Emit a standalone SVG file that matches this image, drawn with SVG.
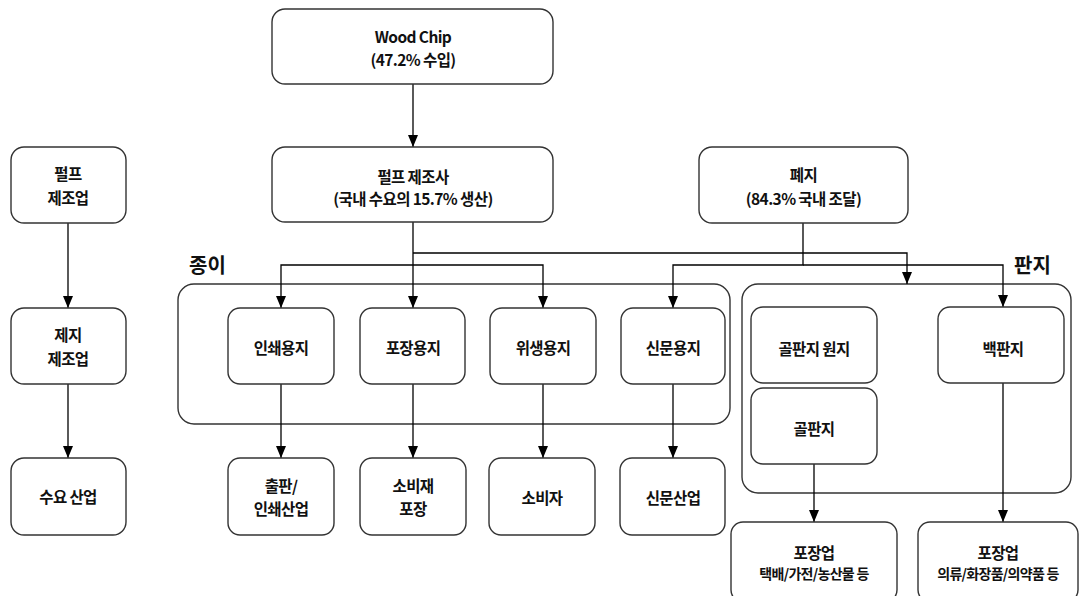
<svg xmlns="http://www.w3.org/2000/svg" width="1080" height="596" viewBox="0 0 1080 596">
<style>
.box{fill:#fff;stroke:#333;stroke-width:1.4}
.grp{fill:none;stroke:#333;stroke-width:1.4}
.t{font-family:"Noto Sans CJK KR","Noto Sans",sans-serif;font-size:15.5px;font-weight:600;fill:#111;text-anchor:middle;dominant-baseline:central;letter-spacing:-0.6px}
.s{font-size:14px;letter-spacing:-0.7px}
.lbl{font-family:"Noto Sans CJK KR","Noto Sans",sans-serif;font-size:20px;font-weight:600;fill:#111}
.c{fill:none;stroke:#000;stroke-width:1.3}
</style>
<defs>
<marker id="ar" markerWidth="12" markerHeight="10" refX="12" refY="5" orient="auto" markerUnits="userSpaceOnUse" viewBox="0 0 12 10">
<path d="M0,0 L12,5 L0,10 Z" fill="#000"/>
</marker>
</defs>

<g id="groups">
<rect id="paper-group" class="grp" x="178" y="284" width="552" height="140" rx="16"/>
<text class="lbl" x="189" y="273">종이</text>
<rect id="board-group" class="grp" x="742" y="284" width="329" height="209" rx="16"/>
<text class="lbl" x="1014" y="273">판지</text>
</g>

<g id="connectors">
<path class="c" d="M413,84 V147" marker-end="url(#ar)"/>
<path class="c" d="M413,222 V308" marker-end="url(#ar)"/>
<path class="c" d="M413,253 H907 V284" marker-end="url(#ar)"/>
<path class="c" d="M413,265 H281 V308" marker-end="url(#ar)"/>
<path class="c" d="M413,265 H543 V308" marker-end="url(#ar)"/>
<path class="c" d="M803,223 V265 H673 V308" marker-end="url(#ar)"/>
<path class="c" d="M803,265 H1003 V307" marker-end="url(#ar)"/>
<path class="c" d="M281,384 V458" marker-end="url(#ar)"/>
<path class="c" d="M413,384 V458" marker-end="url(#ar)"/>
<path class="c" d="M543,384 V458" marker-end="url(#ar)"/>
<path class="c" d="M673,384 V458" marker-end="url(#ar)"/>
<path class="c" d="M814,464 V522" marker-end="url(#ar)"/>
<path class="c" d="M1003,383 V522" marker-end="url(#ar)"/>
<path class="c" d="M68,223 V308" marker-end="url(#ar)"/>
<path class="c" d="M68,384 V458" marker-end="url(#ar)"/>
</g>

<g id="woodchip"><rect class="box" x="272" y="9" width="281" height="75" rx="13"/>
<text class="t" x="413" y="36">Wood Chip</text><text class="t" x="413" y="59">(47.2% 수입)</text></g>

<g id="pulp-maker"><rect class="box" x="272" y="147" width="281" height="75" rx="13"/>
<text class="t" x="413" y="176">펄프 제조사</text><text class="t" x="413" y="198">(국내 수요의 15.7% 생산)</text></g>

<g id="wastepaper"><rect class="box" x="699" y="147" width="209" height="76" rx="13"/>
<text class="t" x="803.5" y="174">폐지</text><text class="t" x="803.5" y="198">(84.3% 국내 조달)</text></g>

<g id="pulp-industry"><rect class="box" x="11" y="147" width="115" height="76" rx="13"/>
<text class="t" x="68" y="173">펄프</text><text class="t" x="68" y="197">제조업</text></g>
<g id="paper-industry"><rect class="box" x="11" y="308" width="115" height="76" rx="13"/>
<text class="t" x="68" y="334">제지</text><text class="t" x="68" y="358">제조업</text></g>
<g id="demand-industry"><rect class="box" x="11" y="458" width="115" height="77" rx="13"/>
<text class="t" x="68" y="496">수요 산업</text></g>

<g id="printing-paper"><rect class="box" x="228" y="308" width="106" height="76" rx="12"/>
<text class="t" x="281" y="347">인쇄용지</text></g>
<g id="packaging-paper"><rect class="box" x="360" y="308" width="105" height="76" rx="12"/>
<text class="t" x="413" y="347">포장용지</text></g>
<g id="sanitary-paper"><rect class="box" x="490" y="308" width="106" height="76" rx="12"/>
<text class="t" x="543" y="347">위생용지</text></g>
<g id="newsprint"><rect class="box" x="621" y="308" width="104" height="76" rx="12"/>
<text class="t" x="673" y="347">신문용지</text></g>

<g id="publishing"><rect class="box" x="228" y="458" width="106" height="77" rx="12"/>
<text class="t" x="281" y="485">출판/</text><text class="t" x="281" y="508">인쇄산업</text></g>
<g id="consumer-packaging"><rect class="box" x="360" y="458" width="106" height="77" rx="12"/>
<text class="t" x="413" y="485">소비재</text><text class="t" x="413" y="508">포장</text></g>
<g id="consumer"><rect class="box" x="489" y="458" width="106" height="77" rx="12"/>
<text class="t" x="542" y="497">소비자</text></g>
<g id="newspaper"><rect class="box" x="620" y="458" width="105" height="77" rx="12"/>
<text class="t" x="673" y="497">신문산업</text></g>

<g id="corrugated-base"><rect class="box" x="751" y="307" width="126" height="76" rx="12"/>
<text class="t" x="814" y="348">골판지 원지</text></g>
<g id="corrugated"><rect class="box" x="751" y="388" width="126" height="76" rx="12"/>
<text class="t" x="814" y="428">골판지</text></g>
<g id="whiteboard"><rect class="box" x="938" y="307" width="126" height="76" rx="12"/>
<text class="t" x="1003" y="348">백판지</text></g>

<g id="pack-corrugated"><rect class="box" x="731" y="522" width="166" height="80" rx="12"/>
<text class="t" x="814" y="552">포장업</text><text class="t s" x="814" y="573">택배/가전/농산물 등</text></g>
<g id="pack-whiteboard"><rect class="box" x="918" y="522" width="160" height="80" rx="12"/>
<text class="t" x="998" y="552">포장업</text><text class="t s" x="998" y="573">의류/화장품/의약품 등</text></g>
</svg>
